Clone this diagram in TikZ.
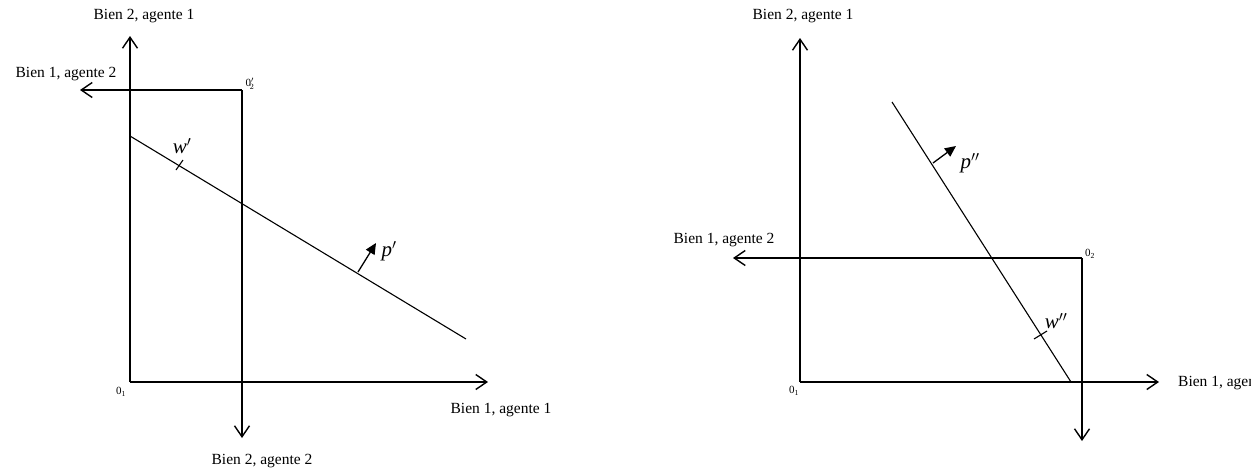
\documentclass[tikz,border=0pt]{standalone}
\usepackage{fontspec}
\setmainfont{Liberation Serif}
\usetikzlibrary{arrows.meta}
\begin{document}
\begin{tikzpicture}[x=1pt,y=-1pt,
  axis/.style={line width=1.4pt,-{Straight Barb[length=11pt,width=15pt,line width=1.4pt]}},
  budget/.style={line width=1.1pt},
  tick/.style={line width=1.1pt},
  price/.style={line width=1.3pt,-{Triangle[length=11pt,width=10pt]}},
  lbl/.style={font=\fontsize{15.5}{18}\selectfont, inner sep=0pt},
  orig/.style={font=\fontsize{11}{13}\selectfont, inner sep=0pt},
  vec/.style={font=\fontsize{21}{24}\selectfont, inner sep=0pt}]
\useasboundingbox (0,0) rectangle (1251,474);
% ---------- left diagram ----------
\coordinate (O1) at (130,382);
\coordinate (Y1) at (130,36);
\coordinate (X1) at (488,382);
\coordinate (O2) at (242,90);
\coordinate (X2) at (80,90);
\coordinate (Y2) at (242,438);
\draw[axis] (O1) -- (Y1);
\draw[axis] (O1) -- (X1);
\draw[axis] (O2) -- (X2);
\draw[axis] (O2) -- (Y2);
\coordinate (BA) at (130,136);
\coordinate (BB) at (466,339);
\draw[budget] (BA) -- (BB);
\coordinate (Wa) at (176,170);
\coordinate (Wb) at (183,160);
\draw[tick] (Wa) -- (Wb);
\coordinate (Pa) at (358,272);
\coordinate (Pb) at (376,243);
\draw[price] (Pa) -- (Pb);
\node[lbl] (l1) at (144,16) {Bien 2, agente 1};
\node[lbl] (l2) at (66,74) {Bien 1, agente 2};
\node[lbl] (l3) at (501,410) {Bien 1, agente 1};
\node[lbl] (l4) at (262,461) {Bien 2, agente 2};
\node[orig] (o1) at (121,392) {0\textsubscript{1}};
\node[orig] (o2) at (250,84) {0$'_{\!2}$};
\node[vec] (w1) at (182,146) {\textit{w}$'$};
\node[vec] (p1) at (389,251) {\textit{p}$'$};
% ---------- right diagram ----------
\coordinate (R1) at (800,382);
\coordinate (RY1) at (800,38);
\coordinate (RX1) at (1159,382);
\coordinate (R2) at (1082,258);
\coordinate (RX2) at (733,258);
\coordinate (RY2) at (1082,441);
\draw[axis] (R1) -- (RY1);
\draw[axis] (R1) -- (RX1);
\draw[axis] (R2) -- (RX2);
\draw[axis] (R2) -- (RY2);
\coordinate (RBA) at (892,102);
\coordinate (RBB) at (1071,382);
\draw[budget] (RBA) -- (RBB);
\coordinate (RWa) at (1034,339);
\coordinate (RWb) at (1047,331);
\draw[tick] (RWa) -- (RWb);
\coordinate (RPa) at (933,163);
\coordinate (RPb) at (956,146);
\draw[price] (RPa) -- (RPb);
\node[lbl] (r1) at (803,16) {Bien 2, agente 1};
\node[lbl] (r2) at (724,240) {Bien 1, agente 2};
\node[lbl,anchor=west] (r3) at (1178,383) {Bien 1, agente 1};
\node[orig] (ro1) at (794,391) {0\textsubscript{1}};
\node[orig] (ro2) at (1090,254) {0\textsubscript{2}};
\node[vec] (rw) at (1056,321) {\textit{w}$''$};
\node[vec] (rp) at (970,163) {\textit{p}$''$};
\end{tikzpicture}
\end{document}
